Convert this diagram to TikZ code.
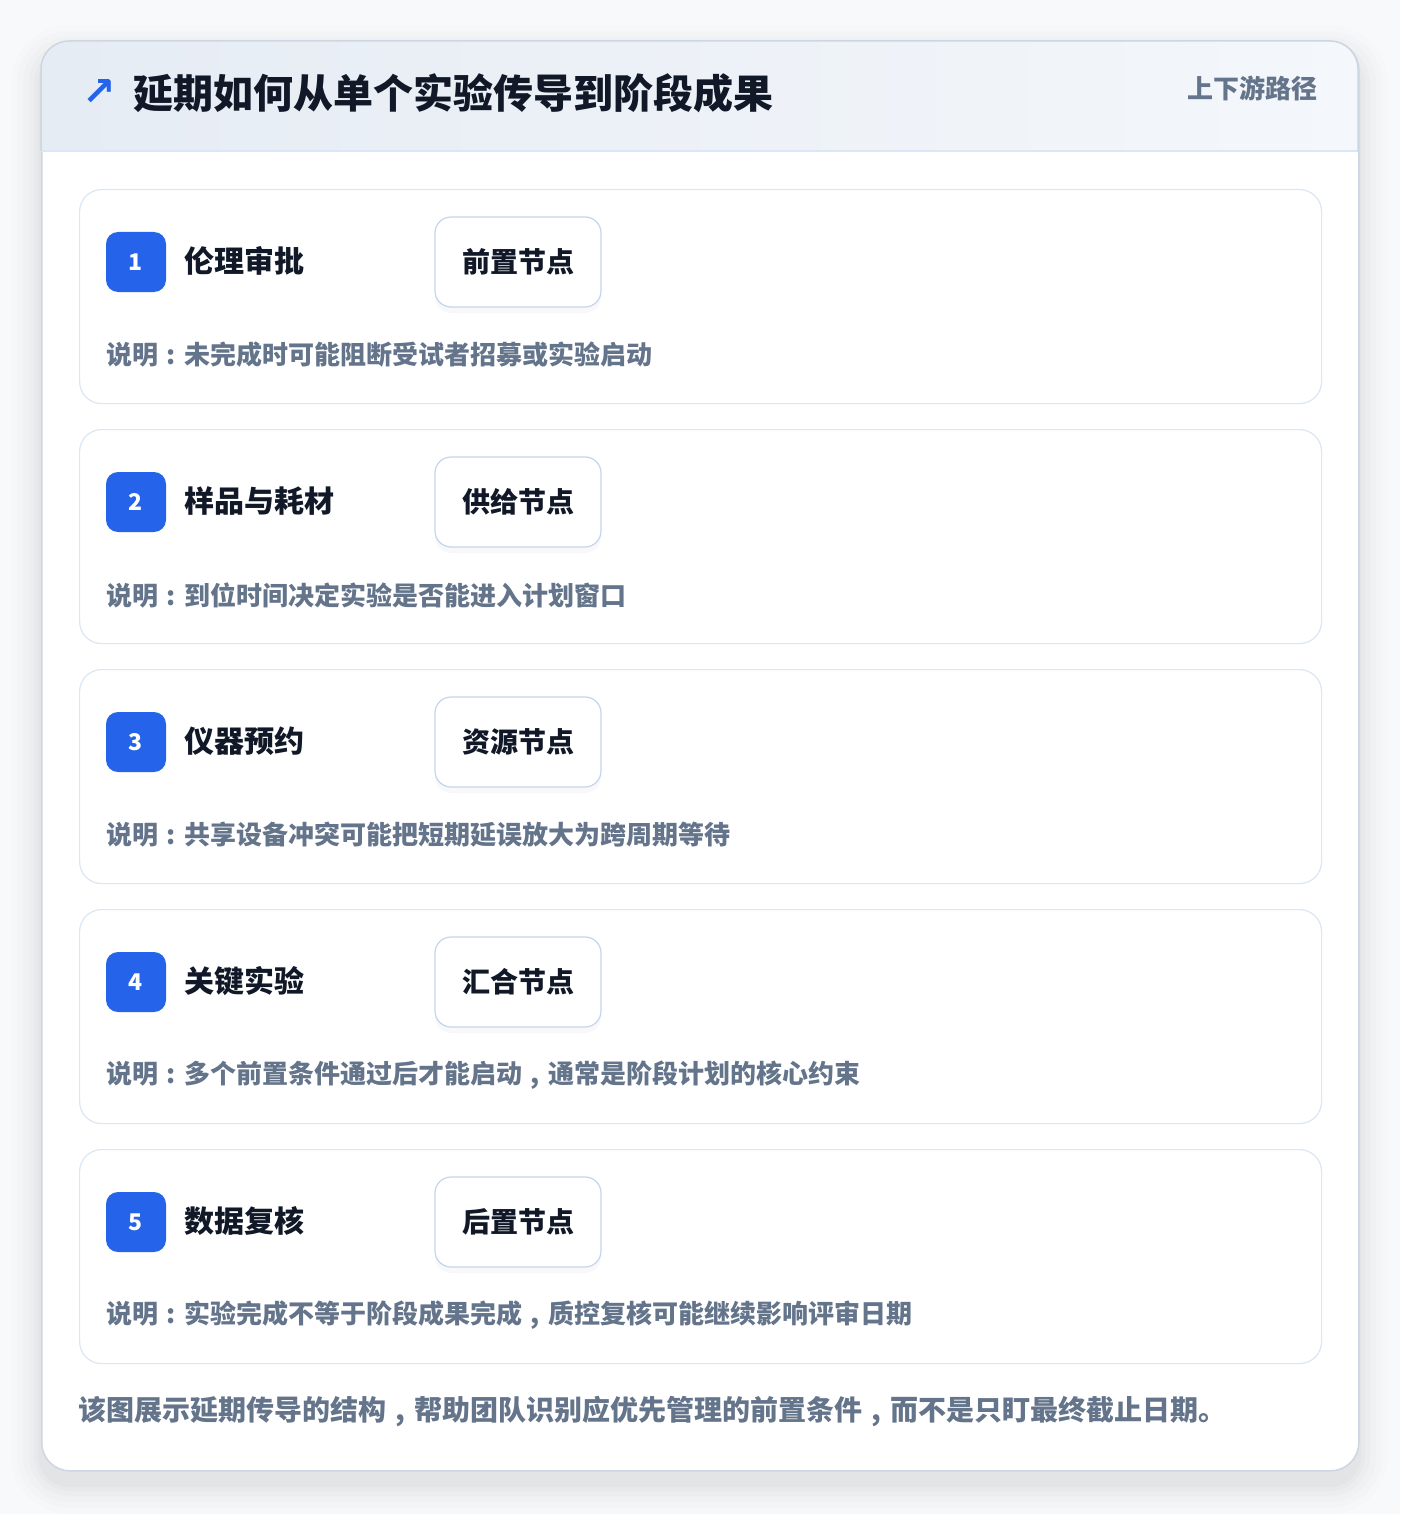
\documentclass[tikz,border=0pt]{standalone}
\usepackage{fontspec}
\setmainfont{Noto Sans CJK SC}
\newfontfamily\symfont{DejaVu Sans}
\usetikzlibrary{shadows}
\definecolor{pagebg}{HTML}{F8F9FA}
\definecolor{cardline}{HTML}{CDD6E3}
\definecolor{headL}{HTML}{E6ECF4}
\definecolor{headR}{HTML}{F4F7FB}
\definecolor{headline}{HTML}{DCE7F5}
\definecolor{accent}{HTML}{2563EB}
\definecolor{inkdark}{HTML}{111827}
\definecolor{inkmuted}{HTML}{64748B}
\definecolor{stageline}{HTML}{DCE6F4}
\definecolor{tagline}{HTML}{C3D6EE}
\newcommand\cjkcolon{\makebox[1em][c]{:}}
\newcommand\cjkcomma{\makebox[1em][c]{,}}
\tikzset{
  stagebox/.style={draw=stageline, line width=1.2pt, fill=white, rounded corners=22pt},
  badgebox/.style={fill=accent, rounded corners=12pt, minimum width=60pt, minimum height=60pt, inner sep=0pt, text=white, font=\fontsize{23}{26}\selectfont\bfseries},
  stagetitle/.style={anchor=west, inner sep=0pt, text=inkdark, font=\fontsize{30}{36}\selectfont\bfseries},
  tagbox/.style={draw=tagline, line width=1.2pt, fill=white, rounded corners=16pt, minimum width=166pt, minimum height=90pt, inner sep=0pt, text=inkdark, font=\fontsize{28}{34}\selectfont\bfseries, drop shadow={opacity=0.05, shadow xshift=0pt, shadow yshift=-6pt}},
  desctext/.style={anchor=west, inner sep=0pt, text=inkmuted, font=\fontsize{26}{32}\selectfont\bfseries},
}
\newcommand\stagecard[6]{%
  \node[stagebox, minimum width=1242pt, minimum height=214pt, anchor=north west] (card#1) at (79,#2) {};
  \node[badgebox] (badge#1) at (136,#2+73) {#3};
  \node[stagetitle] (title#1) at (184,#2+72) {#4};
  \node[tagbox] (tag#1) at (518,#2+73) {#5};
  \node[desctext] (desc#1) at (106,#2+166) {说明\cjkcolon #6};
}
\begin{document}
\begin{tikzpicture}[x=1pt,y=-1pt]
\useasboundingbox (0,0) rectangle (1400,1514);
\fill[pagebg] (0,0) rectangle (1400,1514);
% soft shadow of the main card
\foreach \s/\o in {30/0.008,24/0.01,18/0.012,12/0.014,7/0.016,3/0.02}{
  \fill[black, opacity=\o, rounded corners=28pt+\s pt] (41-\s,41-\s+14) rectangle (1358+\s,1470+\s+14);
}
\node[draw=cardline, line width=1.5pt, fill=white, rounded corners=28pt, minimum width=1317pt, minimum height=1429pt, anchor=north west, inner sep=0pt] (main) at (41,41) {};
\begin{scope}
  \clip[rounded corners=28pt] (41,41) rectangle (1358,1470);
  \shade[left color=headL, right color=headR] (41,41) rectangle (1358,151);
\end{scope}
\draw[headline, line width=1.5pt] (41,151) -- (1358,151);
\draw[cardline, line width=1.5pt, rounded corners=28pt] (41,151) -- (41,41) -- (1358,41) -- (1358,151);
\node[anchor=center, inner sep=0pt, text=accent, font=\symfont\fontsize{40}{44}\selectfont\bfseries] (icon) at (99,93) {↗};
\node[anchor=west, inner sep=0pt, text=inkdark, font=\fontsize{40}{48}\selectfont\bfseries] (heading) at (133,93) {延期如何从单个实验传导到阶段成果};
\node[anchor=east, inner sep=0pt, text=inkmuted, font=\fontsize{26}{32}\selectfont\bfseries] (subtag) at (1318,88) {上下游路径};
\stagecard{1}{189}{1}{伦理审批}{前置节点}{未完成时可能阻断受试者招募或实验启动}
\stagecard{2}{429}{2}{样品与耗材}{供给节点}{到位时间决定实验是否能进入计划窗口}
\stagecard{3}{669}{3}{仪器预约}{资源节点}{共享设备冲突可能把短期延误放大为跨周期等待}
\stagecard{4}{909}{4}{关键实验}{汇合节点}{多个前置条件通过后才能启动\cjkcomma 通常是阶段计划的核心约束}
\stagecard{5}{1149}{5}{数据复核}{后置节点}{实验完成不等于阶段成果完成\cjkcomma 质控复核可能继续影响评审日期}
\node[anchor=west, inner sep=0pt, text=inkmuted, font=\fontsize{28}{32}\selectfont\bfseries] (footer) at (78,1411) {该图展示延期传导的结构\cjkcomma 帮助团队识别应优先管理的前置条件\cjkcomma 而不是只盯最终截止日期。};
\end{tikzpicture}
\end{document}
